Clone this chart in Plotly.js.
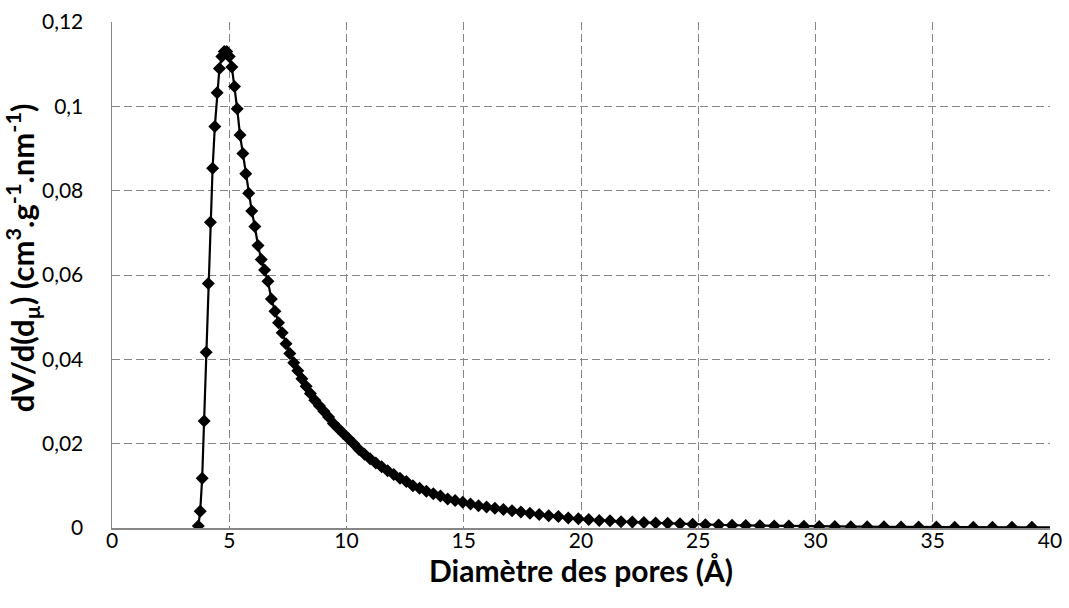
<!DOCTYPE html>
<html>
<head>
<meta charset="utf-8">
<script src="https://cdn.plot.ly/plotly-3.0.1.min.js"></script>
<style>
  html, body { margin: 0; padding: 0; background: #fff; }
  #chart { width: 1069px; height: 608px; }
</style>
</head>
<body>
<div id="chart"></div>
<script>
// Pore diameter (Å)
const poreDiameter = [
  3.680, 3.762, 3.845, 3.930, 4.017, 4.106, 4.197, 4.290, 4.385, 4.482,
  4.581, 4.683, 4.786, 4.892, 5.001, 5.111, 5.225, 5.340, 5.459, 5.580,
  5.703, 5.829, 5.959, 6.091, 6.226, 6.364, 6.505, 6.649, 6.796, 6.947,
  7.101, 7.258, 7.419, 7.583, 7.751, 7.923, 8.098, 8.278, 8.461, 8.649,
  8.840, 9.036, 9.236, 9.441, 9.650, 9.864, 10.083, 10.306, 10.534, 10.768,
  11.006, 11.250, 11.499, 11.754, 12.014, 12.280, 12.552, 12.831, 13.115, 13.405,
  13.702, 14.006, 14.316, 14.633, 14.958, 15.289, 15.628, 15.974, 16.328, 16.689,
  17.059, 17.437, 17.823, 18.218, 18.622, 19.034, 19.456, 19.887, 20.327, 20.778,
  21.238, 21.708, 22.189, 22.681, 23.183, 23.697, 24.222, 24.759, 25.307, 25.868,
  26.441, 27.027, 27.626, 28.238, 28.863, 29.503, 30.156, 30.824, 31.507, 32.205,
  32.919, 33.648, 34.394, 35.156, 35.935, 36.731, 37.544, 38.376, 39.226, 40.096
];
// dV/d(dµ) (cm3.g-1.nm-1)
const dVdd = [
  0.0005, 0.0040, 0.0118, 0.0254, 0.0417, 0.0580, 0.0725, 0.0853, 0.0952, 0.1032,
  0.1090, 0.1118, 0.1130, 0.1130, 0.1118, 0.1093, 0.1047, 0.0994, 0.0932, 0.0888,
  0.0840, 0.0794, 0.0752, 0.0715, 0.0670, 0.0637, 0.0612, 0.0585, 0.0543, 0.0514,
  0.0487, 0.0463, 0.0437, 0.0414, 0.0392, 0.0373, 0.0354, 0.0336, 0.0319, 0.0303,
  0.0290, 0.0277, 0.0263, 0.0248, 0.0236, 0.0224, 0.0212, 0.0200, 0.0186, 0.0175,
  0.0164, 0.0154, 0.0145, 0.0136, 0.0127, 0.0118, 0.0110, 0.0100, 0.0094, 0.0087,
  0.0081, 0.0076, 0.0069, 0.0065, 0.0061, 0.0057, 0.0053, 0.0050, 0.0047, 0.0044,
  0.0041, 0.0038, 0.0035, 0.0032, 0.0029, 0.0027, 0.0024, 0.0022, 0.0020, 0.0018,
  0.0017, 0.0015, 0.0014, 0.0013, 0.0012, 0.0011, 0.0010, 0.0009, 0.0008, 0.0007,
  0.00065, 0.0006, 0.00055, 0.0005, 0.00045, 0.0004, 0.00037, 0.00034, 0.00031, 0.00029,
  0.00027, 0.00025, 0.00023, 0.00021, 0.00020, 0.00019, 0.00018, 0.00017, 0.00016, 0.00015
];
const xTickVals = [0, 5, 10, 15, 20, 25, 30, 35, 40];
const xTickText = ["0", "5", "10", "15", "20", "25", "30", "35", "40"];
const yTickVals = [0, 0.02, 0.04, 0.06, 0.08, 0.10, 0.12];
const yTickText = ["0", "0,02", "0,04", "0,06", "0,08", "0,1", "0,12"];

const xMax = 40;
const markerSizes = poreDiameter.map(v => (v > xMax ? 0 : 10));

const trace = {
  x: poreDiameter,
  y: dVdd,
  type: 'scatter',
  mode: 'lines+markers',
  line: { color: '#000000', width: 2.2 },
  marker: { symbol: 'diamond', size: markerSizes, color: '#000000', opacity: 1, line: { width: 0 } },
  cliponaxis: true,
  showlegend: false,
  hoverinfo: 'x+y'
};

const fontFamily = 'Lato, "Open Sans", "DejaVu Sans", sans-serif';

const layout = {
  width: 1069,
  height: 608,
  margin: { l: 112, r: 19, t: 22, b: 80 },
  paper_bgcolor: '#ffffff',
  plot_bgcolor: '#ffffff',
  font: { family: fontFamily, size: 21, color: '#000000' },
  xaxis: {
    range: [0, 40],
    tickvals: xTickVals,
    ticktext: xTickText,
    showgrid: true,
    gridcolor: '#868686',
    gridwidth: 1,
    griddash: '8px,4px',
    showline: true,
    linecolor: '#868686',
    linewidth: 1.5,
    zeroline: false,
    ticks: '',
    ticklen: 0,
    ticklabelstandoff: -7,
    tickfont: { family: fontFamily, size: 21, color: '#000000' },
    title: {
      text: '<b>Diamètre des pores (Å)</b>',
      font: { family: fontFamily, size: 30, color: '#000000' },
      standoff: 4
    }
  },
  yaxis: {
    range: [0, 0.12],
    tickvals: yTickVals,
    ticktext: yTickText,
    showgrid: true,
    gridcolor: '#868686',
    gridwidth: 1,
    griddash: '8px,4px',
    showline: true,
    linecolor: '#868686',
    linewidth: 1.5,
    zeroline: false,
    ticks: '',
    ticklen: 0,
    ticklabelstandoff: 23,
    tickfont: { family: fontFamily, size: 21, color: '#000000' }
  },
  annotations: [{
    text: '<b>dV/d(d<sub>µ</sub>) (cm<sup>3</sup>.g<sup>-1</sup>.nm<sup>-1</sup>)</b>',
    xref: 'paper', yref: 'paper',
    x: -0.095, y: 0.535,
    xanchor: 'center', yanchor: 'middle',
    textangle: -90,
    showarrow: false,
    font: { family: fontFamily, size: 31, color: '#000000' }
  }]
};

Plotly.newPlot('chart', [trace], layout, { staticPlot: true, displayModeBar: false });
</script>
</body>
</html>
